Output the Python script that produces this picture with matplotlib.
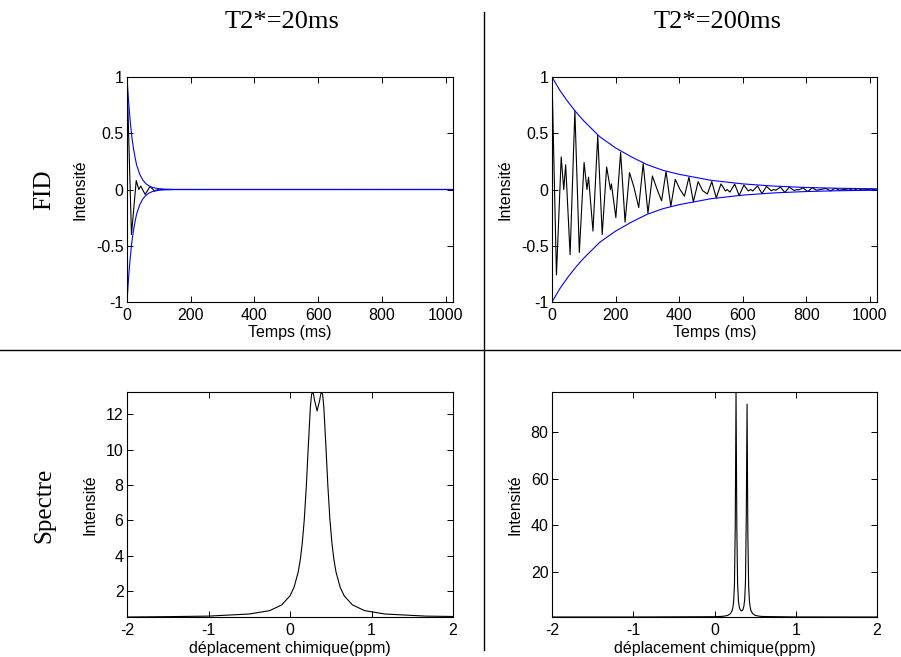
import numpy as np
import matplotlib
matplotlib.use("Agg")
import matplotlib.pyplot as plt
from matplotlib.lines import Line2D

# FID, T2* = 20 ms (extrema)
t_fid20 = [0, 14, 29, 37, 43, 57, 72, 86, 101, 115, 1023]
fid20 = [1.0, -0.40, 0.08, 0.0, 0.031, -0.044, 0.027, -0.012, 0.003, 0.0, 0.0]

# FID, T2* = 200 ms
t_fid200 = [0, 14, 29, 37, 43, 57, 72, 86, 101, 110, 115, 129, 144, 158, 172, 184, 187,
            201, 216, 230, 244, 258, 273, 287, 302, 316, 331, 345, 359, 374, 388, 403,
            417, 431, 445, 460, 474, 489, 503, 517, 532, 546, 551, 560, 575, 589, 604,
            618, 625, 632, 647, 661, 675, 690, 698, 704, 719, 733, 747, 762, 772, 776,
            790, 805, 819, 833, 845, 862, 877, 891, 905, 920, 934, 948, 963, 977, 992,
            1006, 1023]
fid200 = [1.0, -0.76, 0.29, 0.0, 0.22, -0.58, 0.70, -0.56, 0.24, 0.0, 0.11, -0.37, 0.48,
          -0.40, 0.20, 0.0, 0.05, -0.25, 0.33, -0.29, 0.15, 0.02, -0.16, 0.23, -0.21, 0.12,
          0.0, -0.10, 0.16, -0.15, 0.09, 0.0, -0.06, 0.11, -0.11, 0.07, -0.01, -0.04, 0.07,
          -0.075, 0.05, -0.014, 0.0, -0.023, 0.048, -0.053, 0.039, -0.013, 0.0, -0.013,
          0.032, -0.037, 0.028, -0.011, 0.0, -0.007, 0.021, -0.026, 0.021, -0.009, 0.0,
          -0.004, 0.014, -0.018, 0.015, -0.007, 0.0, 0.009, -0.012, 0.011, -0.006, 0.0,
          0.006, -0.008, 0.008, -0.005, 0.0, 0.004, -0.005]

# decay envelopes (blue)
t_env20 = [0, 5, 10, 15, 20, 25, 30, 40, 50, 60, 70, 80, 100, 120, 150, 1023]
env20 = [1.0, 0.78, 0.61, 0.47, 0.37, 0.29, 0.22, 0.135, 0.082, 0.050, 0.030, 0.018,
         0.0067, 0.0025, 0.0006, 0.0]
t_env200 = [0, 25, 50, 75, 100, 125, 150, 200, 250, 300, 350, 400, 500, 600, 700, 800,
            900, 1023]
env200 = [1.0, 0.88, 0.78, 0.69, 0.61, 0.54, 0.47, 0.37, 0.29, 0.22, 0.17, 0.135, 0.082,
          0.050, 0.030, 0.018, 0.011, 0.006]

# spectra
ppm_20 = [-2, -1.5, -1, -0.5, -0.25, -0.1, 0, 0.05, 0.1, 0.125, 0.15, 0.175, 0.2, 0.225,
          0.25, 0.265, 0.28, 0.29, 0.3, 0.3325, 0.365, 0.375, 0.385, 0.4, 0.415, 0.44,
          0.465, 0.49, 0.515, 0.54, 0.565, 0.615, 0.665, 0.765, 0.915, 1.165, 1.665, 2]
spec_20 = [0.52, 0.54, 0.57, 0.69, 0.88, 1.21, 1.72, 2.21, 3.06, 3.73, 4.68, 6.03, 7.91,
           10.24, 12.42, 13.14, 13.27, 13.10, 12.82, 12.20, 12.82, 13.10, 13.27, 13.14,
           12.42, 10.24, 7.91, 6.03, 4.68, 3.73, 3.06, 2.21, 1.72, 1.21, 0.88, 0.69, 0.57,
           0.55]

ppm_200 = [-2, -1, 0, 0.1, 0.15, 0.168, 0.197, 0.2165, 0.2262, 0.2359, 0.2456, 0.2553,
           0.265, 0.2747, 0.2844, 0.2941, 0.3038, 0.3135, 0.3232, 0.3329, 0.3426, 0.3523,
           0.362, 0.3717, 0.3814, 0.3911, 0.4008, 0.4105, 0.4202, 0.4299, 0.4396, 0.4493,
           0.469, 0.5, 0.55, 0.6, 1.0, 2.0]
spec_200 = [0.50, 0.51, 0.63, 0.79, 1.06, 1.28, 1.96, 3.2, 4.56, 7.4, 14.5, 39.3, 97.2,
            39.4, 14.7, 7.7, 5.0, 3.81, 3.28, 3.13, 3.31, 3.9, 5.2, 8.1, 15.9, 43.7, 92.0,
            36.1, 13.8, 7.2, 4.6, 3.2, 2.0, 1.2, 0.85, 0.71, 0.53, 0.50]

fid_xticks = [0, 200, 400, 600, 800, 1000]
fid_yticks = [-1, -0.5, 0, 0.5, 1]
fid_ylabels = ["-1", "-0.5", "0", "0.5", "1"]
ppm_xticks = [-2, -1, 0, 1, 2]
spec20_yticks = [2, 4, 6, 8, 10, 12]
spec200_yticks = [20, 40, 60, 80]

titles = ["T2*=20ms", "T2*=200ms"]
rows = ["FID", "Spectre"]

plt.rcParams['font.family'] = ['Liberation Sans', 'DejaVu Sans']
plt.rcParams['axes.unicode_minus'] = False

W, H = 901, 657
fig = plt.figure(figsize=(W / 100, H / 100), dpi=100)


def box(left, top, right, bottom):
    return [left / W, 1 - bottom / H, (right - left) / W, (bottom - top) / H]


def style(ax, xlabel):
    ax.tick_params(direction='in', top=True, right=True, length=4, width=0.7,
                   labelsize=11.5)
    ax.tick_params(axis='x', pad=4)
    ax.tick_params(axis='y', pad=2.5)
    for s in ax.spines.values():
        s.set_linewidth(0.8)
    ax.set_xlabel(xlabel, fontsize=11.5, va='center')
    ax.xaxis.set_label_coords(0.5, -31 / 225)
    ax.set_ylabel("Intensité", fontsize=11.5, labelpad=6)


def fid_panel(rect, t, y, te, env):
    ax = fig.add_axes(rect)
    ax.plot(t, y, color='black', lw=0.8)
    ax.plot(te, env, color='#0000ff', lw=0.8)
    ax.plot(te, [-v for v in env], color='#0000ff', lw=0.8)
    ax.set_xlim(0, 1023)
    ax.set_ylim(-1, 1)
    ax.set_xticks(fid_xticks)
    ax.set_yticks(fid_yticks)
    ax.set_yticklabels(fid_ylabels)
    style(ax, "Temps (ms)")
    return ax


def spec_panel(rect, x, y, yticks):
    ax = fig.add_axes(rect)
    ax.plot(x, y, color='black', lw=0.8)
    ax.set_xlim(-2, 2)
    ax.set_ylim(min(y), max(y))
    ax.set_xticks(ppm_xticks)
    ax.set_yticks(yticks)
    style(ax, "déplacement chimique(ppm)")
    return ax


fid_panel(box(127, 77, 453, 302), t_fid20, fid20, t_env20, env20)
fid_panel(box(552, 77, 877, 302), t_fid200, fid200, t_env200, env200)
spec_panel(box(127, 392, 453, 617), ppm_20, spec_20, spec20_yticks)
spec_panel(box(552, 392, 877, 617), ppm_200, spec_200, spec200_yticks)

# dividing lines
fig.add_artist(Line2D([484 / W, 484 / W], [1 - 650 / H, 1 - 12 / H],
                      transform=fig.transFigure, color='black', lw=1))
fig.add_artist(Line2D([0, 1], [1 - 350 / H, 1 - 350 / H],
                      transform=fig.transFigure, color='black', lw=1))

serif = ['Liberation Serif', 'DejaVu Serif']
fig.text(282 / W, 1 - 22 / H, titles[0], ha='center', va='center', family=serif, size=19)
fig.text(718 / W, 1 - 22 / H, titles[1], ha='center', va='center', family=serif, size=19)
fig.text(44 / W, 1 - 190 / H, rows[0], ha='center', va='center', rotation=90,
         family=serif, size=18)
fig.text(44 / W, 1 - 505 / H, rows[1], ha='center', va='center', rotation=90,
         family=serif, size=18)

fig.savefig("out.png", dpi=100)
